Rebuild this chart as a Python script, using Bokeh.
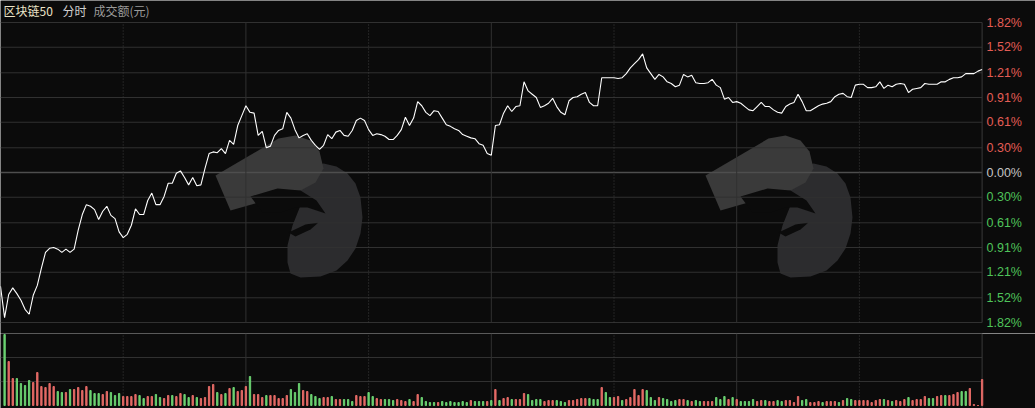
from bokeh.plotting import figure
from bokeh.models import ColumnDataSource, Range1d
from bokeh.layouts import column
from bokeh.core.properties import value
from bokeh.embed import file_html
from bokeh.resources import INLINE

# 区块链50 intraday, % change vs previous close, one point per minute (0 = 9:30, 240 = 15:00)
pct_change = [
    -1.38, -1.76, -1.48, -1.40, -1.47, -1.55, -1.66, -1.72, -1.49, -1.37,
    -1.16, -0.97, -0.92, -0.91, -0.93, -0.97, -0.93, -0.97, -0.93, -0.70,
    -0.51, -0.39, -0.41, -0.45, -0.57, -0.47, -0.41, -0.52, -0.56, -0.72,
    -0.79, -0.75, -0.64, -0.44, -0.51, -0.51, -0.34, -0.25, -0.39, -0.39,
    -0.29, -0.13, -0.13, -0.01, 0.02, -0.06, -0.15, -0.06, -0.16, -0.15,
    0.05, 0.23, 0.25, 0.24, 0.29, 0.23, 0.39, 0.34, 0.57, 0.69,
    0.81, 0.73, 0.72, 0.45, 0.50, 0.30, 0.32, 0.45, 0.51, 0.53,
    0.73, 0.66, 0.52, 0.42, 0.45, 0.47, 0.39, 0.33, 0.28, 0.33,
    0.46, 0.41, 0.49, 0.51, 0.45, 0.44, 0.51, 0.63, 0.66, 0.63,
    0.52, 0.45, 0.47, 0.46, 0.44, 0.40, 0.40, 0.45, 0.52, 0.67,
    0.57, 0.66, 0.86, 0.81, 0.73, 0.69, 0.75, 0.74, 0.66, 0.58,
    0.56, 0.53, 0.51, 0.46, 0.44, 0.42, 0.41, 0.35, 0.33, 0.23,
    0.21, 0.57, 0.58, 0.72, 0.81, 0.74, 0.80, 0.81, 1.10, 0.99,
    0.95, 0.91, 0.79, 0.81, 0.84, 0.90, 0.80, 0.73, 0.70, 0.87,
    0.91, 0.92, 0.95, 0.97, 0.85, 0.81, 0.81, 1.15, 1.15, 1.15,
    1.15, 1.14, 1.15, 1.20, 1.27, 1.32, 1.37, 1.44, 1.27, 1.20,
    1.13, 1.19, 1.16, 1.10, 1.08, 1.04, 1.06, 1.19, 1.16, 1.18,
    1.09, 1.08, 1.08, 1.09, 1.13, 1.06, 1.03, 0.89, 0.91, 0.85,
    0.86, 0.84, 0.80, 0.76, 0.75, 0.80, 0.85, 0.80, 0.80, 0.76,
    0.73, 0.72, 0.80, 0.83, 0.85, 0.95, 0.86, 0.75, 0.75, 0.78,
    0.81, 0.83, 0.84, 0.86, 0.92, 0.95, 0.96, 0.92, 0.91, 1.06,
    1.07, 1.07, 1.03, 1.03, 1.04, 1.10, 1.02, 1.06, 1.04, 1.07,
    1.08, 1.07, 0.97, 1.01, 1.02, 1.03, 1.08, 1.07, 1.07, 1.07,
    1.10, 1.10, 1.13, 1.15, 1.15, 1.16, 1.20, 1.20, 1.20, 1.23,
    1.25,
]

# 成交额 per minute bar (relative units), bar n belongs to minute n + 1
turnover = [
    71, 44, 27, 27, 22, 20, 25, 23, 33, 19,
    18, 22, 19, 14, 13, 13, 16, 16, 18, 15,
    19, 15, 12, 12, 11, 14, 13, 10, 12, 9,
    9, 9, 11, 10, 7, 9, 9, 11, 8, 7,
    10, 10, 9, 12, 11, 8, 10, 8, 7, 8,
    19, 21, 13, 11, 12, 17, 18, 14, 15, 19,
    29, 11, 11, 8, 10, 10, 10, 7, 7, 10,
    16, 13, 22, 15, 14, 11, 9, 7, 8, 8,
    9, 6, 6, 6, 6, 4, 10, 9, 9, 13,
    9, 7, 6, 6, 6, 5, 6, 5, 4, 6,
    4, 11, 8, 4, 3, 3, 3, 4, 3, 4,
    3, 3, 4, 3, 5, 4, 4, 4, 4, 5,
    16, 5, 7, 8, 6, 6, 6, 12, 11, 5,
    6, 6, 4, 5, 5, 5, 4, 3, 5, 5,
    6, 7, 7, 7, 6, 6, 18, 13, 8, 8,
    9, 5, 6, 8, 16, 10, 16, 15, 8, 5,
    8, 7, 6, 4, 5, 6, 6, 5, 4, 5,
    4, 4, 4, 4, 8, 6, 9, 6, 8, 6,
    4, 4, 4, 6, 4, 5, 5, 4, 4, 5,
    4, 5, 5, 3, 9, 5, 6, 3, 3, 4,
    3, 4, 4, 4, 3, 5, 7, 6, 5, 5,
    5, 5, 3, 5, 6, 6, 5, 4, 5, 4,
    6, 8, 5, 6, 6, 9, 7, 7, 9, 10,
    10, 10, 11, 13, 14, 14, 17, 1, 0, 26,
]

# r = price up in that minute, g = down
direction = (
    "grrggggrrr" "rrrggrgrrr" "rgggrrgggr" "rrrggrrggr" "rgrrggrgrr"
    "rrgrgrgrrr" "grrrgrrrrr" "gggrrgggrr" "grrgggrrrg" "grrgggrrrg"
    "rrggggrggg" "ggggrgggrg" "rgrrgrrrgg" "ggrrrgggrr" "rrrgggrggr"
    "rgrrrrrggg" "rggggrrgrg" "grrrgggrgr" "ggggrrgrrg" "grrrrggrrr"
    "grrrgrggrr" "rrrrrgrgrr" "rgrrrrggrr" "grrrggrrrr"
)

tick_values = [1.82, 1.52, 1.21, 0.91, 0.61, 0.30, 0.00,
               -0.30, -0.61, -0.91, -1.21, -1.52, -1.82]
half_hours = [30, 60, 90, 120, 150, 180, 210]
hours = [60, 120, 180]

BG = "#0b0b0b"
GRID = "#313131"
RED = "#e35d55"
GREEN = "#4fc35a"

W = 1035
H_PRICE = 333
H_VOL = 75
PX_PER_MIN = 981.6 / 240
X_END = W / PX_PER_MIN
K = 3.64 / 300  # percent per pixel
Y_TOP = 1.82 + 22 * K


def px_x(px):
    return px / PX_PER_MIN


def px_y(py):
    return Y_TOP - py * K


minutes = list(range(len(pct_change)))
price_src = ColumnDataSource(dict(x=minutes, y=pct_change))

p = figure(width=W, height=H_PRICE, x_range=Range1d(0, X_END),
           y_range=Range1d(-1.82 - 11 * K, Y_TOP),
           x_axis_type=None, y_axis_type=None,
           toolbar_location=None, output_backend="svg", min_border=0)
p.background_fill_color = BG
p.border_fill_color = BG
p.outline_line_color = None
p.grid.visible = False

# watermark logo (two tilted "D" slabs with a dark head cut out), drawn twice
slab = [(705, 175), (768, 138), (785, 135), (800, 140), (809, 151), (813, 168),
        (805, 182), (790, 190), (720, 210)]
bowl = [(787, 173), (800, 166), (813, 163), (826, 166), (837, 173), (845, 183),
        (850, 197), (852, 217), (850, 233), (845, 248), (837, 260), (826, 270),
        (810, 276), (790, 277), (780, 273), (777, 262), (777, 245), (782, 225), (790, 205)]
head = [(740, 196), (767, 188), (790, 190), (806, 200), (815, 213), (797, 207),
        (785, 207), (770, 212), (752, 212)]
beak = [(778, 232), (795, 224), (808, 222), (800, 229), (785, 236)]
for shift in (-490, 0):
    for shape, fill in ((bowl, "#2c2c2e"), (slab, "#3a3a3a"), (head, BG), (beak, BG)):
        p.patch([px_x(a + shift) for a, b in shape], [px_y(b) for a, b in shape],
                fill_color=fill, line_color=None)

# horizontal grid at the percentage ticks
others = [t for t in tick_values if t != 0]
p.segment(x0=0, x1=240, y0=others, y1=others, color=GRID, line_width=1)
p.segment(x0=0, x1=240, y0=0, y1=0, color="#4e4e4e", line_width=1.6)

# time grid
dotted = [t for t in half_hours if t not in hours]
p.segment(x0=dotted, x1=dotted, y0=-1.82, y1=1.82, color="#3c3c3c",
          line_width=1, line_dash="1 2")
p.segment(x0=hours, x1=hours, y0=-1.82, y1=1.82, color=GRID, line_width=1)
p.segment(x0=240, x1=240, y0=-1.82, y1=1.82, color="#3a3a3a", line_width=1)

p.line("x", "y", source=price_src, color="white", line_width=1.1)

# right-hand labels, coloured by sign
label_colors = [RED if t > 0 else GREEN if t < 0 else "#c4c4c4" for t in tick_values]
label_text = ["%.2f%%" % abs(t) for t in tick_values]
p.text(x=px_x(986), y=tick_values, text=label_text, text_color=label_colors,
       text_font=value("Liberation Sans"), text_font_size="12.5px",
       text_baseline="middle", text_align="left")

# header
ty = px_y(10)
p.text(x=[px_x(3)], y=[ty], text=["区块链50"], text_color="#ece4c8",
       text_font=value("Noto Sans CJK SC"), text_font_size="12px",
       text_baseline="middle")
p.text(x=[px_x(62)], y=[ty], text=["分时"], text_color="#d0d0d0",
       text_font=value("Noto Sans CJK SC"), text_font_size="12px",
       text_baseline="middle")
p.text(x=[px_x(93)], y=[ty], text=["成交额(元)"], text_color="#9a9a9a",
       text_font=value("Noto Sans CJK SC"), text_font_size="12px",
       text_baseline="middle")

# volume panel
bar_x = [n + 1 for n in range(len(turnover))]
bar_colors = ["#e56a66" if d == "r" else "#6bd271" for d in direction]
vol_src = ColumnDataSource(dict(x=bar_x, top=turnover, color=bar_colors))

v = figure(width=W, height=H_VOL, x_range=p.x_range, y_range=Range1d(-3, 72),
           x_axis_type=None, y_axis_type=None,
           toolbar_location=None, output_backend="svg", min_border=0)
v.background_fill_color = BG
v.border_fill_color = BG
v.outline_line_color = None
v.grid.visible = False

v.segment(x0=0, x1=240, y0=[24, 48, 72], y1=[24, 48, 72], color=GRID, line_width=1)
v.segment(x0=dotted, x1=dotted, y0=-3, y1=72, color="#3c3c3c",
          line_width=1, line_dash="1 2")
v.segment(x0=hours, x1=hours, y0=-3, y1=72, color=GRID, line_width=1)
v.segment(x0=240, x1=240, y0=-3, y1=72, color="#3a3a3a", line_width=1)
v.vbar(x="x", top="top", bottom=0, width=0.32, color="color", source=vol_src)

layout = column(p, v, spacing=0)

open("out.html", "w").write(file_html(layout, INLINE))
